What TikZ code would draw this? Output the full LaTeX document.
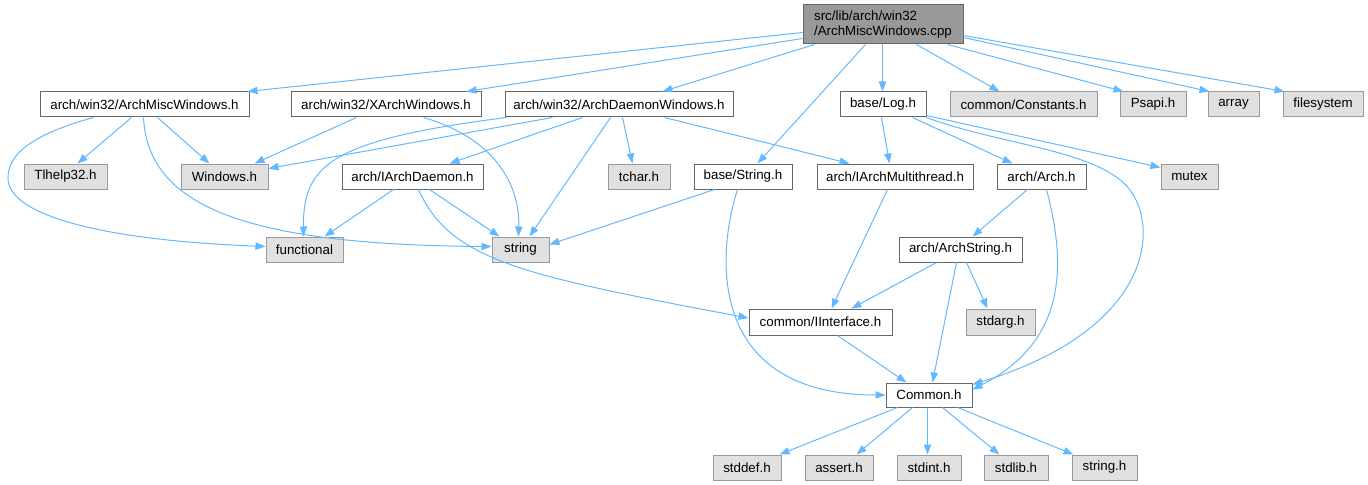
\documentclass[tikz,border=0pt]{standalone}
\usepackage{fontspec}
\setmainfont{Liberation Sans}
\usetikzlibrary{arrows.meta,calc}
\definecolor{edgeblue}{HTML}{63B8FF}
\definecolor{bordgray}{HTML}{666666}
\definecolor{sysfill}{HTML}{E0E0E0}
\definecolor{sysbord}{HTML}{999999}
\definecolor{rootfill}{HTML}{999999}
% name, style, x1, x2, y1, y2, text  (pixel box of the reference)
\newcommand\mknode[7]{%
  \pgfmathsetmacro\ndX{(#3+#4)/2}%
  \pgfmathsetmacro\ndY{(#5+#6)/2}%
  \pgfmathsetmacro\ndW{(#4-#3)*0.75}%
  \pgfmathsetmacro\ndH{(#6-#5)*0.75}%
  \node[#2,minimum width=\ndW pt,minimum height=\ndH pt] (#1) at (\ndX,\ndY) {#7};}
\begin{document}
\begin{tikzpicture}[x=0.75pt,y=-0.75pt,
  box/.style={draw=bordgray,fill=white,line width=0.75pt,inner sep=0pt,font=\fontsize{10}{11.5}\selectfont},
  sys/.style={box,draw=sysbord,fill=sysfill},
  rootbox/.style={box,fill=rootfill,align=left},
  e/.style={draw=edgeblue,line width=0.75pt,-{Triangle[length=7.5pt,width=5.5pt]}}]
\useasboundingbox (0,0) rectangle (1368,485);
% nodes
\mknode{root}{rootbox}{803}{963}{5}{44}{src/lib/arch/win32\\/ArchMiscWindows.cpp}
\mknode{ms}{box}{40}{249}{92}{117}{arch/win32/ArchMiscWindows.h}
\mknode{xa}{box}{291}{481}{92}{117}{arch/win32/XArchWindows.h}
\mknode{dw}{box}{505}{733}{92}{117}{arch/win32/ArchDaemonWindows.h}
\mknode{lg}{box}{840}{926}{92}{117}{base/Log.h}
\mknode{cn}{sys}{950}{1097}{92}{117}{common/Constants.h}
\mknode{ps}{sys}{1120}{1186}{92}{117}{Psapi.h}
\mknode{ar}{sys}{1208}{1259}{92}{117}{array}
\mknode{fs}{sys}{1283}{1363}{92}{117}{filesystem}
\mknode{tl}{sys}{24}{107}{164}{189}{Tlhelp32.h}
\mknode{wn}{sys}{181}{268}{164}{189}{Windows.h}
\mknode{id}{box}{342}{483}{164}{189}{arch/IArchDaemon.h}
\mknode{tc}{sys}{608}{670}{164}{189}{tchar.h}
\mknode{bs}{box}{694}{792}{164}{189}{base/String.h}
\mknode{mt}{box}{817}{973}{164}{189}{arch/IArchMultithread.h}
\mknode{ah}{box}{997}{1086}{164}{189}{arch/Arch.h}
\mknode{mx}{sys}{1161}{1218}{164}{189}{mutex}
\mknode{fn}{sys}{266}{343}{237}{262}{functional}
\mknode{st}{sys}{492}{549}{237}{262}{string}
\mknode{as}{box}{899}{1022}{237}{262}{arch/ArchString.h}
\mknode{ii}{box}{749}{892}{309}{335}{common/IInterface.h}
\mknode{sa}{sys}{966}{1035}{309}{335}{stdarg.h}
\mknode{cm}{box}{886}{972}{383}{407}{Common.h}
\mknode{sd}{sys}{713}{781}{455}{480}{stddef.h}
\mknode{at}{sys}{805}{873}{455}{480}{assert.h}
\mknode{si}{sys}{897}{961}{455}{480}{stdint.h}
\mknode{sl}{sys}{984}{1048}{455}{480}{stdlib.h}
\mknode{sh}{sys}{1072}{1137}{455}{480}{string.h}
% edges from root
\draw[e] ($(root.north west)+(0,28)$) -- ($(ms.north east)+(-2,0)$);
\draw[e] ($(root.north west)+(0,34)$) -- ($(xa.north west)+(176,0)$);
\draw[e] ($(root.south west)+(12,0)$) -- ($(dw.north west)+(158,0)$);
\draw[e] ($(root.south west)+(63,0)$) -- ($(bs.north west)+(64,0)$);
\draw[e] ($(root.south west)+(80,0)$) -- ($(lg.north west)+(43,0)$);
\draw[e] ($(root.south west)+(114,0)$) -- ($(cn.north west)+(50,0)$);
\draw[e] ($(root.south west)+(145,0)$) -- ($(ps.north west)+(4,0)$);
\draw[e] ($(root.north east)+(0,33)$) -- ($(ar.north west)+(2,0)$);
\draw[e] ($(root.north east)+(0,31)$) -- ($(fs.north west)+(2,0)$);
% ArchMiscWindows.h
\draw[e] ($(ms.south west)+(92,0)$) -- ($(tl.north west)+(54,0)$);
\draw[e] ($(ms.south west)+(118,0)$) -- ($(wn.north west)+(29,0)$);
\draw[e] ($(ms.south west)+(54,0)$) .. controls (30,135) and (8,155) .. (8,178)
   .. controls (8,215) and (100,240) .. ($(fn.west)+(0,-3)$);
\draw[e] ($(ms.south west)+(104,0)$) .. controls (148,200) and (230,245) .. ($(st.west)+(0,-3)$);
% XArchWindows.h
\draw[e] ($(xa.south west)+(66,0)$) -- ($(wn.north east)+(-14,0)$);
\draw[e] ($(xa.south west)+(133,0)$) .. controls (500,140) and (520,190) .. ($(st.north west)+(27,0)$);
% ArchDaemonWindows.h
\draw[e] ($(dw.south west)+(48,0)$) -- ($(wn.north east)+(0,5)$);
\draw[e] ($(dw.south west)+(2,0)$) .. controls (330,140) and (303,165) .. ($(fn.north west)+(38,0)$);
\draw[e] ($(dw.south west)+(78,0)$) -- ($(id.north west)+(108,0)$);
\draw[e] ($(dw.south west)+(106,0)$) -- ($(st.north west)+(38,0)$);
\draw[e] ($(dw.south west)+(118,0)$) -- ($(tc.north west)+(25,0)$);
\draw[e] ($(dw.south west)+(160,0)$) -- ($(mt.north west)+(33,0)$);
% IArchDaemon.h
\draw[e] ($(id.south west)+(52,0)$) -- ($(fn.north west)+(59,0)$);
\draw[e] ($(id.south west)+(88,0)$) -- ($(st.north west)+(8,0)$);
\draw[e] ($(id.south west)+(77,0)$) .. controls (450,260) and (520,275) .. ($(ii.west)+(0,-4)$);
% base/String.h
\draw[e] ($(bs.south west)+(21,0)$) -- ($(st.east)+(0,-5)$);
\draw[e] ($(bs.south west)+(44,0)$) .. controls (715,260) and (710,395) .. (cm.west);
% base/Log.h
\draw[e] ($(lg.south west)+(42,0)$) -- ($(mt.north west)+(73,0)$);
\draw[e] ($(lg.south west)+(73,0)$) -- ($(ah.north west)+(16,0)$);
\draw[e] ($(lg.south east)+(0,-2)$) -- ($(mx.north west)+(0,4)$);
\draw[e] (lg.south east) .. controls (1000,145) and (1100,150) .. (1130,190)
   .. controls (1160,230) and (1150,330) .. ($(cm.north east)+(0,2)$);
% arch/Arch.h
\draw[e] ($(ah.south west)+(31,0)$) -- ($(as.north west)+(74,0)$);
\draw[e] ($(ah.south west)+(50,0)$) .. controls (1065,260) and (1070,340) .. ($(cm.north east)+(0,7)$);
% arch/ArchString.h
\draw[e] ($(as.south west)+(38,0)$) -- ($(ii.north west)+(103,0)$);
\draw[e] ($(as.south west)+(58,0)$) -- ($(cm.north west)+(47,0)$);
\draw[e] ($(as.south west)+(68,0)$) -- ($(sa.north west)+(22,0)$);
% IArchMultithread.h, IInterface.h
\draw[e] ($(mt.south west)+(71,0)$) -- ($(ii.north west)+(83,0)$);
\draw[e] ($(ii.south west)+(89,0)$) -- ($(cm.north west)+(21,0)$);
% Common.h
\draw[e] ($(cm.south west)+(12,0)$) -- ($(sd.north east)+(-2,0)$);
\draw[e] ($(cm.south west)+(27,0)$) -- ($(at.north west)+(52,0)$);
\draw[e] ($(cm.south west)+(42,0)$) -- ($(si.north west)+(31,0)$);
\draw[e] ($(cm.south west)+(57,0)$) -- ($(sl.north west)+(16,0)$);
\draw[e] ($(cm.south west)+(72,0)$) -- ($(sh.north west)+(2,0)$);
\end{tikzpicture}
\end{document}
